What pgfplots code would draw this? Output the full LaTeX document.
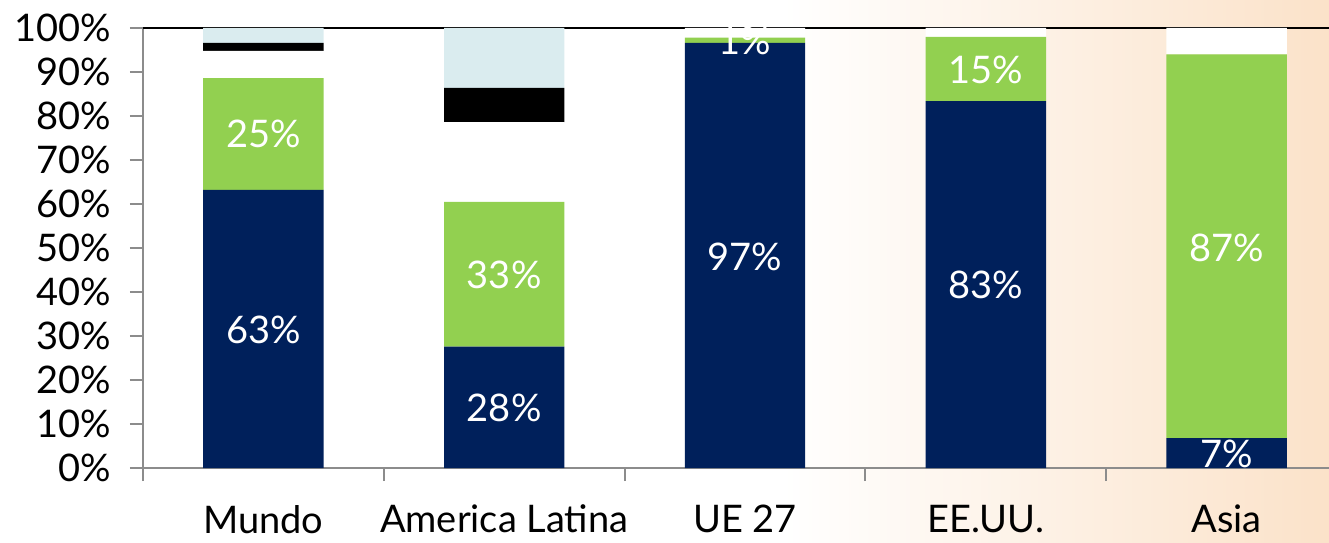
\documentclass[border=0pt]{standalone}
\usepackage{pgfplots}
\pgfplotsset{compat=1.18}
\usepackage{fontspec}
\setmainfont{Lato}
\definecolor{navy}{HTML}{00205B}
\definecolor{lgreen}{HTML}{92D050}
\definecolor{lblue}{HTML}{DAECEF}
\definecolor{peach}{HTML}{FBE2C9}
\definecolor{axgray}{HTML}{8C8C8C}
\pgfplotsset{
  frame/.style={
    at={(0,0)}, anchor=south west,
    scale only axis, width=593pt, height=220pt,
    xmin=-0.5, xmax=4.425, ymin=0, ymax=100,
    clip=false,
  },
}
\begin{document}
\begin{tikzpicture}
% picture frame: 1 px of the reference = 0.5pt, axis corner at (0,0)
\path[use as bounding box] (-71.5pt,-37pt) rectangle (593pt,234pt);
\shade[left color=white, right color=peach] (320pt,-37pt) rectangle (593pt,234pt);
\begin{axis}[
  frame,
  ybar stacked, bar width=0.5,
  axis x line*=bottom, axis y line*=left,
  axis line style={axgray, line width=1pt},
  xtick={-0.5,0.5,...,3.5}, xticklabels={},
  extra x ticks={0,...,4},
  extra x tick labels={Mundo, America Latina, UE 27, EE.UU., Asia},
  extra x tick style={major tick length=0pt, xticklabel style={yshift=-15pt}},
  xtick align=outside,
  ytick={0,10,...,100},
  yticklabel={\pgfmathprintnumber{\tick}\%},
  ytick align=outside,
  tick style={axgray, line width=1pt},
  major tick length=6.5pt,
  yticklabel style={xshift=-6pt},
  /pgf/number format/assume math mode=true,
  tick label style={font=\fontsize{19}{21}\selectfont, text=black},
]
\addplot[fill=navy, draw=none] coordinates {(0,63.2) (1,27.6) (2,96.6) (3,83.4) (4,6.8)};
\addplot[fill=lgreen, draw=none] coordinates {(0,25.4) (1,32.9) (2,1.2) (3,14.6) (4,87.2)};
\addplot[fill=white, draw=none] coordinates {(0,6.2) (1,18.1) (2,2.2) (3,2.0) (4,6.0)};
\addplot[fill=black, draw=none] coordinates {(0,1.8) (1,7.8) (2,0) (3,0) (4,0)};
\addplot[fill=lblue, draw=none] coordinates {(0,3.4) (1,13.6) (2,0) (3,0) (4,0)};
\draw[black, line width=1pt] (rel axis cs:0,1) -- (rel axis cs:1,1);
\end{axis}
% value labels, centred in their segments
\begin{axis}[frame, hide axis]
\addplot[only marks, mark=none, nodes near coords, point meta=explicit symbolic,
  every node near coord/.append style={anchor=center, text=white,
    font=\fontsize{19}{21}\selectfont}]
  coordinates {
  (0,31.4)[63\%] (0,76.0)[25\%] (1,13.6)[28\%] (1,44.0)[33\%]
  (2,48.0)[97\%] (2,97.0)[1\%] (3,41.6)[83\%] (3,90.5)[15\%]
  (4,50.0)[87\%] (4,3.3)[7\%]
};
\end{axis}
\end{tikzpicture}
\end{document}
